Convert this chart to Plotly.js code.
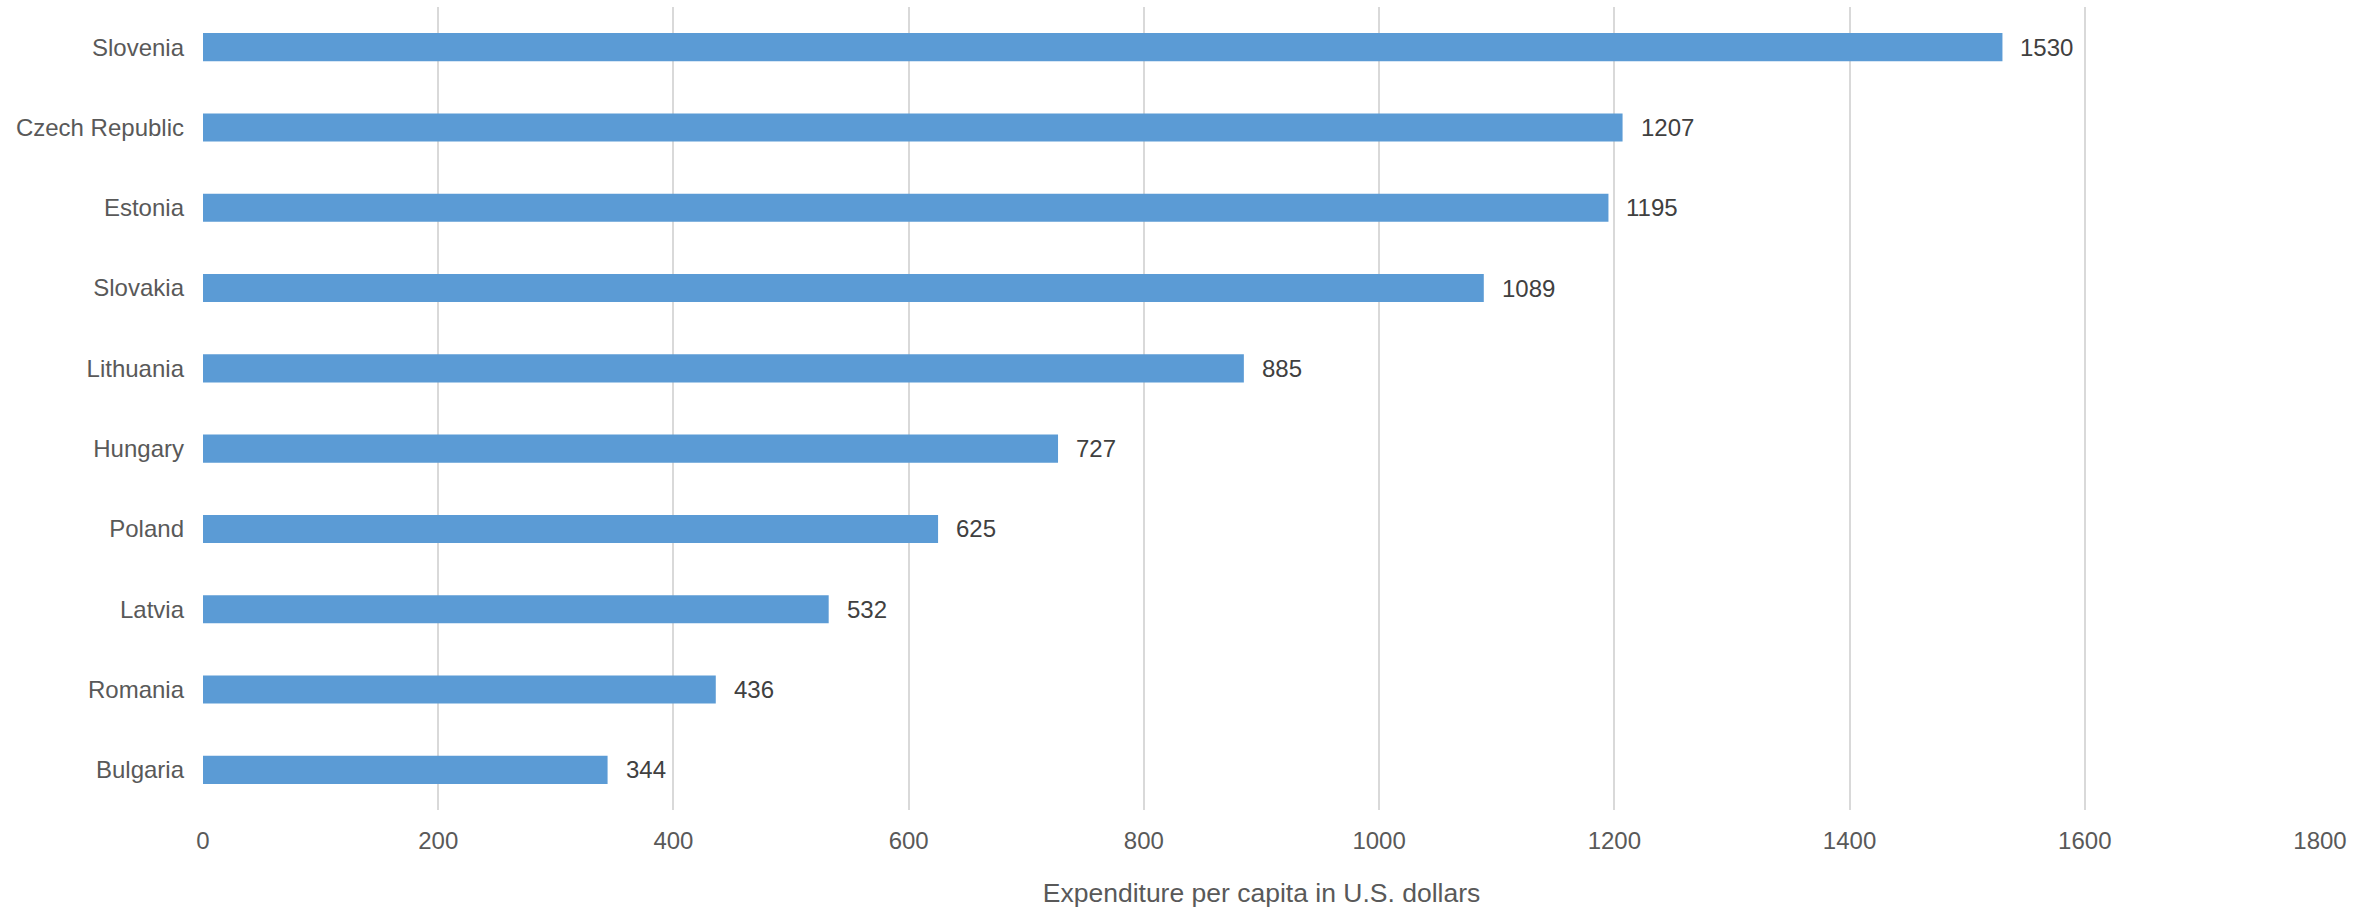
<!DOCTYPE html>
<html>
<head>
<meta charset="utf-8">
<script src="https://cdn.plot.ly/plotly-3.0.1.min.js"></script>
<style>html,body{margin:0;padding:0;background:#fff;}#chart{width:2376px;height:908px;}</style>
</head>
<body>
<div id="chart"></div>
<script>
const countries = ["Bulgaria","Romania","Latvia","Poland","Hungary","Lithuania","Slovakia","Estonia","Czech Republic","Slovenia"];
const values = [344,436,532,625,727,885,1089,1195,1207,1530];
const xTicks = [0,200,400,600,800,1000,1200,1400,1600,1800];
const xTitle = "Expenditure per capita in U.S. dollars";

const FONT = "'Liberation Sans', Arial, sans-serif";

const trace = {
  type: "bar",
  orientation: "h",
  x: values,
  y: countries,
  width: 0.35,
  marker: {color: "#5B9BD5"},
  hoverinfo: "x+y"
};

const annotations = countries.map((c, i) => ({
  x: values[i], y: c, xref: "x", yref: "y",
  text: String(values[i]), showarrow: false,
  xanchor: "left", xshift: 16,
  font: {family: FONT, size: 24, color: "#404040"}
}));

const layout = {
  width: 2376, height: 908,
  margin: {l: 203, r: 56, t: 7, b: 98},
  paper_bgcolor: "#fff", plot_bgcolor: "#fff",
  showlegend: false,
  font: {family: FONT, size: 24, color: "#595959"},
  xaxis: {
    range: [0, 1800], tickvals: xTicks, ticktext: xTicks.map(String),
    showgrid: true, gridcolor: "#d9d9d9", gridwidth: 2,
    zeroline: false, showline: false, ticks: "",
    ticklabelstandoff: 14,
    tickfont: {family: FONT, size: 24, color: "#595959"},
    title: {text: xTitle, font: {family: FONT, size: 26.5, color: "#595959"}, standoff: 30},
    fixedrange: true
  },
  yaxis: {
    type: "category", categoryorder: "array", categoryarray: countries,
    showgrid: false, zeroline: false, showline: false, ticks: "",
    ticklabelstandoff: 18,
    tickfont: {family: FONT, size: 24, color: "#595959"},
    fixedrange: true
  },
  annotations: annotations
};

Plotly.newPlot("chart", [trace], layout, {displayModeBar: false, staticPlot: true});
</script>
</body>
</html>
